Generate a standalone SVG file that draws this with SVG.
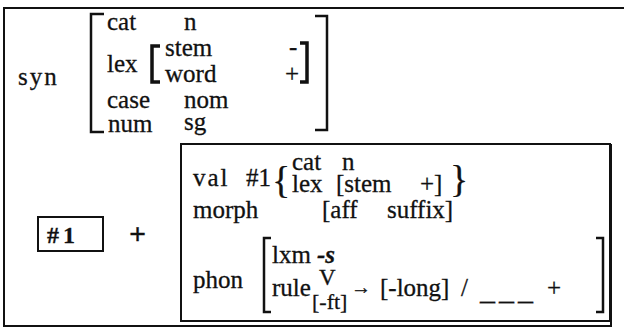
<svg xmlns="http://www.w3.org/2000/svg" width="624" height="329" viewBox="0 0 624 329">
<style>
text{font-family:'Liberation Serif','Times New Roman',Times,serif;font-size:25px;fill:#111;stroke:#111;stroke-width:0.3}
.sp{letter-spacing:2px}
.br{fill:none;stroke:#111;stroke-width:2.5}
.bb{fill:none;stroke:#111;stroke-width:3.5}
.fr{fill:none;stroke:#111;stroke-width:2}
</style>
<g font-family="'Liberation Serif', Times, serif">
<g id="frame">
<path class="fr" d="M624,8 H4 V326 H611 V144"/>
<rect class="fr" x="181" y="144" width="429" height="177"/>
</g>
<g id="syn">
<text x="18" y="85" class="sp">syn</text>
<path class="br" d="M104,14 H91 V132 H104"/>
<path class="br" d="M315,16 H327 V130 H315"/>
<text x="107" y="30">cat</text>
<text x="184" y="30">n</text>
<text x="107" y="72">lex</text>
<path class="bb" d="M160,46 H152 V82 H160"/>
<text x="165" y="56">stem</text>
<text x="165" y="82">word</text>
<text x="289" y="55">-</text>
<text x="285" y="82">+</text>
<path class="bb" d="M300,43 H307 V82 H300"/>
<text x="107" y="108">case</text>
<text x="184" y="108">nom</text>
<text x="108" y="132">num</text>
<text x="184" y="130">sg</text>
</g>
<g id="ref1">
<rect class="fr" x="38" y="217" width="65" height="34"/>
<text x="47" y="243" style="font-weight:bold;font-size:24px;letter-spacing:4px">#1</text>
</g>
<g id="plus">
<text x="129" y="244" style="font-size:30px;font-weight:bold">+</text>
</g>
<g id="affix">
<text x="193" y="186" class="sp">val</text>
<text x="246" y="186">#1</text>
<text x="272" y="193" style="font-size:38px">{</text>
<text x="292" y="170">cat</text>
<text x="342" y="170">n</text>
<text x="292" y="192">lex</text>
<text x="336" y="192">[stem</text>
<text x="420" y="192">+]</text>
<text x="450" y="192" style="font-size:38px">}</text>
<text x="193" y="218">morph</text>
<text x="322" y="218">[aff</text>
<text x="387" y="218">suffix]</text>
<text x="193" y="288">phon</text>
<path class="br" d="M271,238 H264 V312 H271"/>
<text x="272" y="263">lxm</text>
<text x="317" y="263" style="font-weight:bold;font-style:italic">-s</text>
<text x="319" y="285" style="font-size:23px">V</text>
<text x="272" y="296">rule</text>
<text x="312" y="309" style="font-size:22px">[-ft]</text>
<text x="351" y="294" style="font-size:20px">→</text>
<text x="380" y="296">[-long]</text>
<text x="461" y="296">/</text>
<text x="480" y="300" style="font-size:30px;letter-spacing:4px">___</text>
<text x="547" y="296">+</text>
<path class="br" d="M596,238 H603 V312 H596"/>
</g>
</g>
</svg>
